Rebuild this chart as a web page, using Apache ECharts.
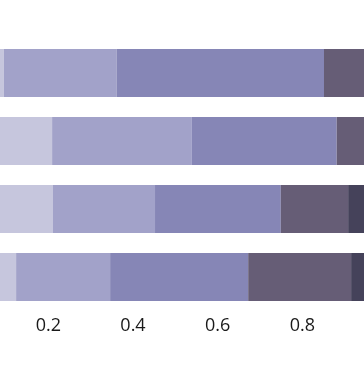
<!DOCTYPE html>
<html>
<head>
<meta charset="utf-8">
<script src="https://cdn.jsdelivr.net/npm/echarts@6/dist/echarts.min.js"></script>
<style>html,body{margin:0;padding:0;background:#fff;}#c{width:364px;height:369px;}</style>
</head>
<body>
<div id="c"></div>
<script>
var categories = ['A', 'B', 'C', 'D'];
var seriesNames = ['S1', 'S2', 'S3', 'S4', 'S5'];
var s1 = [0.095, 0.209, 0.211, 0.124];
var s2 = [0.266, 0.330, 0.241, 0.222];
var s3 = [0.490, 0.342, 0.297, 0.326];
var s4 = [0.105, 0.080, 0.159, 0.243];
var s5 = [0.044, 0.039, 0.092, 0.085];
var colors = ['#c6c6dd', '#a2a2c9', '#8686b6', '#665d76', '#45425a'];
var values = [s1, s2, s3, s4, s5];

var chart = echarts.init(document.getElementById('c'), null, {renderer: 'canvas'});
var series = values.map(function (v, i) {
  return {
    name: seriesNames[i],
    type: 'bar',
    stack: 'total',
    data: v,
    barWidth: 48,
    itemStyle: {color: colors[i], borderWidth: 0},
    emphasis: {disabled: true}
  };
});
chart.setOption({
  animation: false,
  grid: {left: -36.4, right: -23.1, top: 39, bottom: 58, outerBoundsMode: 'none', containLabel: false},
  xAxis: {
    type: 'value', min: 0, max: 1, interval: 0.2,
    axisLine: {show: false}, axisTick: {show: false}, splitLine: {show: false},
    axisLabel: {fontSize: 18, color: '#1a1a1a', margin: 6, fontFamily: 'Open Sans'}
  },
  yAxis: {
    type: 'category', data: categories, inverse: true,
    axisLine: {show: false}, axisTick: {show: false}, axisLabel: {show: false}, splitLine: {show: false}
  },
  series: series
});
</script>
</body>
</html>
